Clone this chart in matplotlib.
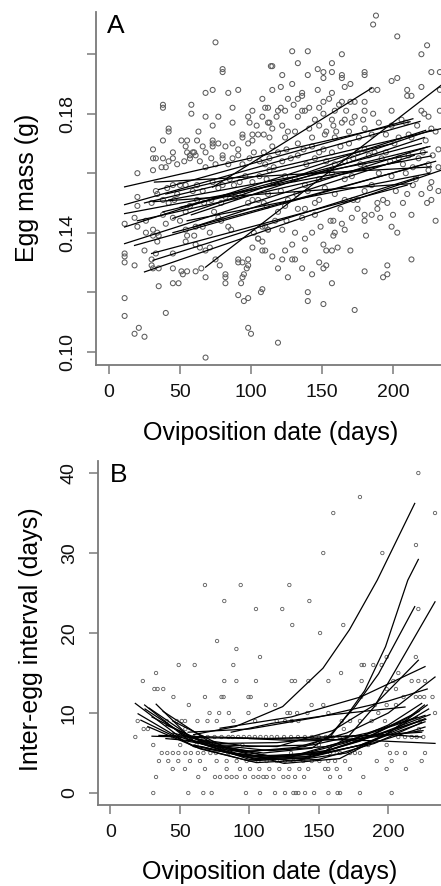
import matplotlib
matplotlib.use("Agg")
import matplotlib.pyplot as plt

plt.rcParams['font.family'] = ['Liberation Sans', 'DejaVu Sans']

# ---- Panel A: egg mass vs oviposition date ----
a_day = [
    # upper part
    75, 80, 80, 114, 68, 73, 84, 91, 38, 38, 58, 58, 68, 77, 87, 98, 101, 108, 110, 87,
    73, 42, 42, 38, 63, 94, 101, 108, 112, 99, 104,
    31, 31, 33, 38, 42, 45, 51, 55, 54, 55, 59, 57, 61, 62, 66, 68, 73, 73, 73, 77,
    80, 82, 87, 91, 94, 98, 101, 105, 109, 113,
    20, 31, 37, 40, 45, 48, 53, 57, 60, 64, 68, 72, 75, 80, 84, 87, 91, 94, 99, 102, 106, 109, 113,
    # middle
    20, 33, 34, 41, 45, 50, 54, 59, 62, 66, 73, 77, 80, 85, 88, 92, 96, 101, 106, 111, 113,
    20, 30, 38, 42, 46, 48, 54, 57, 62, 67, 72, 79, 82, 89, 94, 98, 101, 105, 109,
    11, 18, 20, 26, 26, 31, 31, 34, 35, 38, 40, 45, 50, 54, 55, 60, 61, 66, 71, 74, 77,
    79, 84, 86, 102, 105, 108,
    # lower
    11, 11, 11, 18, 25, 30, 31, 35, 33, 34, 45, 45, 51, 52, 55, 61, 65, 68, 75, 78, 82,
    82, 91, 91, 94, 98, 98, 97, 95, 94, 101, 108, 108, 105, 112, 61, 64, 68, 71, 54, 30,
    68, 18, 25, 11, 11, 40, 98, 100, 91, 98, 108, 45, 49, 35, 82, 21, 95, 107, 93,
    # right half, top
    188, 186, 203, 224, 220, 227, 233, 129, 140, 115, 133, 122, 140, 147, 151, 151, 157,
    164, 164, 164, 157, 180, 180, 199, 203,
    115, 121, 129, 136, 136, 133, 126, 147, 157, 166, 170, 185, 189, 210, 210, 213, 220,
    233, 173, 170, 164, 151, 148, 141, 121, 119, 112, 130, 136, 124, 113, 118, 133, 138,
    151, 159, 167, 180, 180, 186, 199, 220, 222, 233, 155, 162,
    206, 225, 227, 164, 173, 179, 145, 157, 158, 166, 171, 199, 209, 217, 115, 122, 126,
    131, 141, 148, 153, 160, 169, 176, 185, 195, 204, 213, 223, 115, 124, 133, 143, 152,
    159, 180, 190, 211, 230,
    110, 116, 122, 128, 133, 139, 145, 151, 157, 163, 169, 175, 180, 187, 192, 198, 204,
    211, 218, 225, 119, 125, 137, 143, 148, 153, 159, 166, 172, 177, 183, 195, 201, 207,
    214, 221, 228, 232,
    # right half, middle
    116, 124, 131, 138, 148, 157, 166, 171, 180, 190, 199, 209, 216, 225, 232, 111, 132,
    133, 166, 172, 175, 189, 189, 193, 196, 207, 210, 220, 224, 227, 227, 226, 121, 126,
    140, 145, 152, 159, 163, 180, 185, 202, 214, 232, 112, 124, 138, 148,
    110, 131, 138, 143, 149, 156, 158, 164, 166, 159, 175, 180, 180, 185, 200, 199, 203,
    125, 117, 112, 129, 151, 181, 119, 122, 136, 145, 171, 191, 213, 230,
    # right half, lower
    110, 119, 122, 129, 124, 126, 136, 140, 140, 143, 148, 151, 153, 153, 157, 158, 157,
    161, 170, 173, 180, 193, 196, 196, 213, 119, 138, 131, 115, 151,
]
a_mass = [
    0.204, 0.195, 0.194, 0.196, 0.187, 0.188, 0.187, 0.188, 0.183, 0.182, 0.183, 0.180,
    0.179, 0.179, 0.182, 0.179, 0.181, 0.185, 0.182, 0.177,
    0.176, 0.175, 0.174, 0.171, 0.174, 0.173, 0.173, 0.179, 0.177, 0.177, 0.176,
    0.168, 0.165, 0.165, 0.165, 0.164, 0.167, 0.171, 0.171, 0.169, 0.167, 0.167, 0.165,
    0.166, 0.171, 0.169, 0.167, 0.171, 0.170, 0.169, 0.170,
    0.165, 0.169, 0.170, 0.168, 0.172, 0.170, 0.171, 0.173, 0.173, 0.172,
    0.160, 0.161, 0.162, 0.162, 0.165, 0.163, 0.164, 0.166, 0.167, 0.164, 0.162, 0.165,
    0.163, 0.166, 0.163, 0.165, 0.166, 0.163, 0.165, 0.167, 0.164, 0.167, 0.165,
    0.152, 0.154, 0.153, 0.155, 0.156, 0.156, 0.156, 0.154, 0.156, 0.154, 0.157, 0.155,
    0.156, 0.158, 0.156, 0.157, 0.159, 0.157, 0.159, 0.158, 0.161,
    0.149, 0.150, 0.151, 0.150, 0.151, 0.153, 0.147, 0.149, 0.151, 0.150, 0.151, 0.150,
    0.152, 0.152, 0.153, 0.150, 0.151, 0.151, 0.150,
    0.143, 0.145, 0.142, 0.144, 0.140, 0.141, 0.139, 0.140, 0.139, 0.146, 0.143, 0.145,
    0.144, 0.141, 0.139, 0.139, 0.142, 0.142, 0.140, 0.147, 0.145,
    0.144, 0.142, 0.141, 0.140, 0.138, 0.142,
    0.133, 0.132, 0.130, 0.129, 0.134, 0.131, 0.128, 0.128, 0.133, 0.137, 0.133, 0.128,
    0.127, 0.126, 0.127, 0.127, 0.128, 0.125, 0.131, 0.129, 0.126,
    0.125, 0.131, 0.130, 0.130, 0.131, 0.129, 0.128, 0.126, 0.125, 0.135, 0.137, 0.134,
    0.138, 0.141, 0.136, 0.135, 0.134, 0.135, 0.137, 0.129,
    0.098, 0.106, 0.105, 0.112, 0.118, 0.113, 0.108, 0.106, 0.119, 0.118, 0.121, 0.123,
    0.123, 0.122, 0.123, 0.108, 0.117, 0.120, 0.123,
    0.213, 0.210, 0.206, 0.203, 0.200, 0.194, 0.194, 0.201, 0.201, 0.196, 0.197, 0.193,
    0.193, 0.195, 0.194, 0.192, 0.194,
    0.200, 0.193, 0.192, 0.197, 0.194, 0.193, 0.191, 0.192,
    0.188, 0.189, 0.190, 0.187, 0.186, 0.185, 0.185, 0.188, 0.187, 0.189, 0.190, 0.188,
    0.188, 0.188, 0.186, 0.186, 0.189,
    0.188, 0.184, 0.184, 0.184, 0.184, 0.182, 0.182, 0.182, 0.181, 0.182, 0.183, 0.181,
    0.181, 0.177, 0.179, 0.179, 0.181,
    0.180, 0.181, 0.181, 0.184, 0.181, 0.180, 0.181, 0.181, 0.180, 0.181, 0.185, 0.183,
    0.178, 0.179, 0.175, 0.177, 0.179, 0.178, 0.178, 0.178, 0.176, 0.178, 0.177, 0.176,
    0.177, 0.176, 0.175, 0.176, 0.174,
    0.174, 0.175, 0.176, 0.174, 0.174, 0.174, 0.172, 0.173, 0.173, 0.172, 0.172, 0.171,
    0.169, 0.172, 0.170, 0.172, 0.173,
    0.172, 0.175, 0.177, 0.173, 0.174,
    0.163, 0.162, 0.164, 0.165, 0.166, 0.163, 0.165, 0.168, 0.167, 0.169, 0.170, 0.167,
    0.168, 0.167, 0.165, 0.164, 0.165,
    0.166, 0.165, 0.163, 0.167, 0.168, 0.168, 0.169, 0.167, 0.164, 0.163, 0.164, 0.165,
    0.163, 0.166, 0.167, 0.170, 0.163,
    0.162, 0.167, 0.166, 0.168,
    0.157, 0.159, 0.158, 0.156, 0.158, 0.160, 0.158, 0.159, 0.162, 0.160, 0.159, 0.160,
    0.158, 0.161, 0.162, 0.149, 0.153,
    0.148, 0.151, 0.151, 0.151, 0.150, 0.148, 0.151, 0.150, 0.150, 0.153, 0.153, 0.150,
    0.151, 0.157, 0.155, 0.154, 0.151,
    0.154, 0.150, 0.155, 0.153, 0.148, 0.154, 0.156, 0.154, 0.156, 0.154, 0.153, 0.149,
    0.148, 0.151,
    0.142, 0.140, 0.138, 0.140, 0.142, 0.144, 0.144, 0.143, 0.141, 0.140, 0.148, 0.144,
    0.146, 0.146, 0.146, 0.142, 0.140,
    0.144, 0.144, 0.141, 0.136, 0.136, 0.139, 0.147, 0.141, 0.145, 0.146, 0.145, 0.145,
    0.146, 0.144,
    0.134, 0.128, 0.131, 0.131, 0.134, 0.125, 0.128, 0.120, 0.117, 0.126, 0.130, 0.128,
    0.129, 0.134, 0.134, 0.139, 0.123,
    0.135, 0.134, 0.114, 0.127, 0.125, 0.129, 0.126, 0.131, 0.103, 0.134, 0.131, 0.132,
    0.116,
]

# per-female regression lines: start day/mass -> end day/mass
line_d0 = [11, 11, 11, 11, 11, 18, 25, 31, 32, 31, 42, 45, 68, 73, 35, 40, 50, 55, 45,
           38, 25, 58, 30, 60, 20]
line_m0 = [0.1554, 0.1494, 0.1464, 0.1419, 0.1363, 0.1357, 0.1268, 0.1307, 0.1570, 0.1504,
           0.1510, 0.1448, 0.1284, 0.1553, 0.1545, 0.1530, 0.1485, 0.1440, 0.1400, 0.1470,
           0.1500, 0.1460, 0.1330, 0.1420, 0.1440]
line_d1 = [212, 219, 227, 223, 224, 223, 234, 218, 227, 213, 224, 227, 234, 185, 214, 234,
           220, 226, 230, 226, 200, 222, 210, 215, 205]
line_m1 = [0.1773, 0.1774, 0.1658, 0.1744, 0.1688, 0.1632, 0.1610, 0.1587, 0.1621, 0.1565,
           0.1671, 0.1745, 0.1896, 0.1886, 0.1783, 0.1750, 0.1700, 0.1600, 0.1640, 0.1690,
           0.1700, 0.1720, 0.1560, 0.1660, 0.1640]

# ---- Panel B: inter-egg interval vs oviposition date ----
b_day = [
    30.9, 56.1, 66.9, 72.9, 97.6, 107.7, 118.5, 125.7, 131.7, 133.5, 135.3, 140.1, 146.6,
    156.9, 163.5, 165.3, 179.6, 202.4,
    32.9, 63.3, 75.3, 78.9, 83.7, 87.3, 90.9, 96.9, 102.9, 106.5, 110.1, 112.5, 117.3,
    124.5, 128.1, 132.9, 139.4, 158.1, 165.3, 182.0,
    44.9, 53.7, 68.1, 83.7, 93.3, 100.5, 107.2, 114.4, 121.6, 128.8, 136.0, 142.4, 154.5,
    156.8, 162.9, 172.4, 198.8, 212.7,
    35.0, 41.7, 48.9, 57.3, 64.5, 76.5, 83.7, 90.9, 98.1, 106.5, 112.5, 119.7, 125.7,
    131.7, 138.8, 144.9, 150.4, 156.8, 161.7, 168.9, 191.7, 202.4, 224.0,
    37, 41, 45, 49, 54, 58, 63, 67, 72, 76, 85, 130, 158.1, 162.9, 165.3, 172.4, 176.0,
    179.6, 201.2, 206.0, 212.0, 226.4,
    30.9, 50.3, 62, 95, 150, 185.6, 198.8,
    18.0, 45, 50, 55, 60, 66, 70, 75, 80, 85, 88, 92, 96, 100, 104, 108, 112, 116, 120,
    125, 130, 135, 140, 145, 150, 155, 160, 165, 170, 175, 180, 207.2, 212.0, 216.8,
    220.4, 225.2,
    24, 27, 54, 168, 222,
    19.7, 40.6, 47.8, 51.4, 53.8, 62.7, 69.9, 76.6, 88.6, 104.2, 119.7, 125.7, 130.5,
    135.3, 166.5, 172.5, 179.6, 188.0, 197.6, 212.0, 222.8,
    71.4, 78.3, 85.3, 99.4, 127.4, 129.3, 134.4, 141.8, 156.9, 192.8, 233.6,
    56.5, 112.0, 118.6, 144.8, 153.2, 190.4, 198.8, 205.5,
    45.4, 68.1, 80.0, 81.5, 99.4, 101.0, 180.4, 210.9, 219.8, 222.8, 225.8, 231.8,
    31.7, 34.0, 38.1, 198.8, 205.5,
    23.4, 82.0, 90.7, 104.8, 130.5, 132.9, 142.5, 156.9, 180.8, 203.6, 216.8, 221.6, 226.4,
    32.9, 166.0, 207.2,
    49.2, 60.7, 88.5, 180.8, 182.5, 189.2, 195.2,
    107.7, 198.8, 219.8,
    90.7, 76.8, 150.9, 130.9, 167.6,
    104.8, 123.7, 221.6, 82.0, 143.2,
    68.1, 93.8, 128.8, 153.2, 195.7, 219.9, 160.4, 233.6, 179.6, 221.6,
]
b_int = (
    [0] * 18 + [2] * 20 + [3] * 18 + [4] * 23 + [5] * 22 + [6] * 7 + [7] * 36 + [8] * 5
    + [9] * 21 + [10] * 11 + [11] * 8 + [12] * 12 + [13] * 5 + [14] * 13 + [15] * 3
    + [16] * 7 + [17] * 3
    + [18, 19, 20, 21, 21]
    + [23, 23, 23, 24, 24]
    + [26, 26, 26, 30, 30, 31, 35, 35, 37, 40]
)

# per-female fitted curves (vertices)
curve_days = [
    [60, 90, 124, 153, 172, 192, 219],
    [25, 60, 100, 140, 158, 171, 183, 198, 214, 221.6],
    [30, 70, 110, 145, 159, 176, 193, 219],
    [40, 80, 120, 155, 171, 190, 212, 233.6],
    [79, 130, 180, 226.4],
    [45, 80, 120, 160, 190, 221.6],
    [55, 95, 130, 170, 200, 233.6],
    [18, 50, 90, 130, 170, 200, 224],
    [24.7, 55, 95, 135, 175, 226.4],
    [33, 60, 100, 140, 180, 226.4],
    [20, 60, 100, 140, 180, 226.4],
    [22, 60, 105, 150, 190, 226.4],
    [27, 65, 105, 150, 190, 224],
    [30, 70, 110, 150, 190, 224],
    [35, 75, 115, 155, 195, 233.6],
    [40, 80, 120, 160, 200, 224],
    [45, 85, 125, 165, 195, 229],
    [50, 90, 130, 170, 200, 228],
    [56, 100, 150, 200, 228],
    [87, 116, 160, 212],
    [60, 100, 140, 180, 215, 226],
    [65, 105, 145, 185, 222],
    [70, 110, 150, 190, 227],
    [38, 75, 115, 155, 195, 222],
    [28, 60, 100, 145, 185, 221],
    [75, 115, 155, 195, 230],
    [100, 140, 180, 225],
]
curve_vals = [
    [7.3, 8.3, 10.8, 15.6, 20.4, 26.6, 36.2],
    [10.5, 6.5, 5.2, 5.8, 7.0, 9.9, 12.8, 18.3, 26.6, 29.2],
    [9.5, 6.0, 5.0, 5.6, 7.4, 10.8, 14.9, 23.3],
    [8.5, 5.5, 4.5, 5.3, 7.0, 10.8, 17.4, 23.9],
    [8.1, 9.5, 12.0, 15.8],
    [7.5, 6.0, 5.8, 7.8, 11.0, 16.6],
    [6.5, 5.2, 5.5, 7.5, 10.0, 14.5],
    [11.2, 7.0, 4.8, 4.5, 6.3, 8.5, 11.2],
    [11.0, 6.8, 4.6, 4.8, 6.8, 9.7],
    [11.1, 6.5, 4.2, 4.3, 6.0, 9.3],
    [9.9, 5.8, 4.0, 4.4, 6.0, 8.9],
    [9.1, 5.9, 4.3, 4.9, 6.3, 8.25],
    [8.3, 5.5, 3.8, 4.2, 6.2, 8.8],
    [7.1, 6.9, 6.8, 7.0, 7.2, 7.6],
    [7.2, 7.0, 6.8, 6.7, 6.5, 6.2],
    [6.8, 6.2, 6.3, 7.0, 7.3, 7.0],
    [9.0, 5.5, 3.7, 4.3, 7.0, 10.5],
    [7.5, 5.0, 4.0, 5.0, 7.5, 11.0],
    [7.6, 8.0, 9.5, 11.5, 13.0],
    [7.6, 8.7, 9.8, 10.75],
    [6.0, 4.5, 4.5, 6.5, 9.5, 11.0],
    [5.8, 4.2, 4.6, 7.0, 10.2],
    [5.5, 4.4, 5.0, 7.2, 9.2],
    [10.2, 6.0, 4.6, 5.2, 7.4, 9.0],
    [10.6, 6.8, 5.8, 6.0, 7.5, 9.5],
    [6.0, 5.3, 5.8, 7.5, 9.8],
    [6.8, 6.5, 6.8, 7.8],
]

x_ticks = [0, 50, 100, 150, 200]
a_ticks = [0.10, 0.12, 0.14, 0.16, 0.18, 0.20]
a_ticklabels = ["0.10", "", "0.14", "", "0.18", ""]
b_ticks = [0, 10, 20, 30, 40]

W, H = 441, 886
fig = plt.figure(figsize=(W / 100, H / 100), dpi=100)


def px_box(left, top, right, bottom):
    return [left / W, 1 - bottom / H, (right - left) / W, (bottom - top) / H]


def style_axes(ax):
    for side in ["top", "right"]:
        ax.spines[side].set_visible(False)
    for side in ["left", "bottom"]:
        ax.spines[side].set_color("#7a7a7a")
        ax.spines[side].set_linewidth(1.3)
    ax.tick_params(length=6.5, width=1.1, color="#7a7a7a", labelsize=14,
                   labelcolor="#111111", pad=7)
    ax.tick_params(axis="y", labelrotation=90, pad=8)
    for lab in ax.get_yticklabels():
        lab.set_va("center")


gray = "#5c5c5c"

# panel A
axA = fig.add_axes(px_box(96, 12, 441, 365))
axA.set_xlim(-9.15, 233.8)
axA.set_ylim(0.0955, 0.2142)
axA.scatter(a_day, a_mass, s=13, facecolors="none", edgecolors=gray, linewidths=0.75, zorder=2)
for d0, m0, d1, m1 in zip(line_d0, line_m0, line_d1, line_m1):
    axA.plot([d0, d1], [m0, m1], color="black", lw=0.9, zorder=3)
axA.set_xticks(x_ticks)
axA.set_yticks(a_ticks)
axA.set_yticklabels(a_ticklabels)
style_axes(axA)

# panel B
axB = fig.add_axes(px_box(98, 460.7, 441, 805))
axB.set_xlim(-8.85, 237.9)
axB.set_ylim(-1.5, 41.54)
axB.scatter(b_day, b_int, s=6, facecolors="none", edgecolors=gray, linewidths=0.6, zorder=2)
for xs, ys in zip(curve_days, curve_vals):
    axB.plot(xs, ys, color="black", lw=0.9, zorder=3)
axB.set_xticks(x_ticks)
axB.set_yticks(b_ticks)
style_axes(axB)


def ftext(x, y, s, **kw):
    fig.text(x / W, 1 - y / H, s, **kw)


ftext(271, 440, "Oviposition date (days)", ha="center", va="baseline", fontsize=18)
ftext(270, 879, "Oviposition date (days)", ha="center", va="baseline", fontsize=18)
ftext(27, 188, "Egg mass (g)", ha="center", va="center", rotation=90, fontsize=18)
ftext(31, 639, "Inter-egg interval (days)", ha="center", va="center", rotation=90, fontsize=18)
ftext(107, 33, "A", ha="left", va="baseline", fontsize=19)
ftext(110, 482, "B", ha="left", va="baseline", fontsize=19)

fig.savefig("out.png", dpi=100)
